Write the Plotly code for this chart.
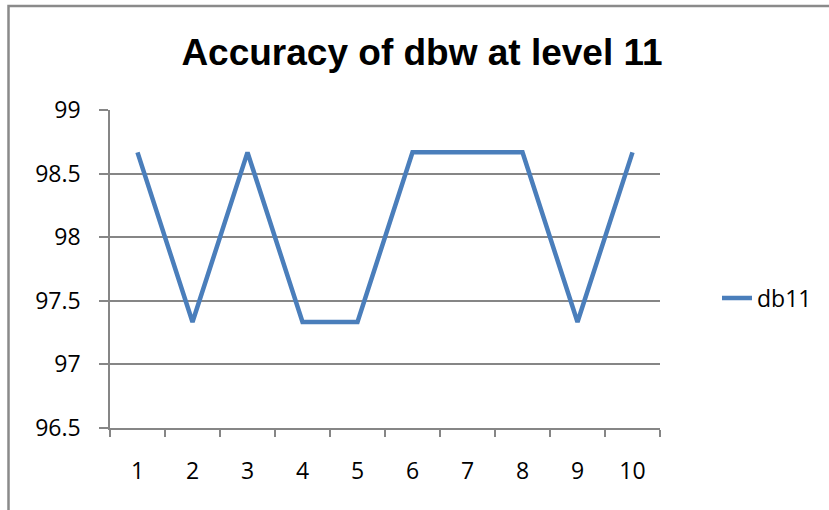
import plotly.graph_objects as go

categories = ["1", "2", "3", "4", "5", "6", "7", "8", "9", "10"]
db11 = [98.667, 97.333, 98.667, 97.333, 97.333, 98.667, 98.667, 98.667, 97.333, 98.667]
y_ticks = [96.5, 97, 97.5, 98, 98.5, 99]
y_tick_labels = ["96.5", "97", "97.5", "98", "98.5", "99"]

GRID = "#868686"
TICKFONT = dict(family="Open Sans, Noto Sans, sans-serif", size=23, color="#000000")

fig = go.Figure()
fig.add_trace(go.Scatter(
    x=categories, y=db11, mode="lines", name="db11",
    line=dict(color="#4A7EBB", width=4.5),
))

fig.update_layout(
    width=829, height=510, autosize=False,
    margin=dict(l=110, r=169, t=110, b=82),
    paper_bgcolor="white", plot_bgcolor="white",
    title=dict(
        text="<b>Accuracy of dbw at level 11</b>",
        font=dict(family="Liberation Sans Narrow, Arial Narrow, Liberation Sans, sans-serif", size=37, color="#000000"),
        x=422 / 829, xref="container", xanchor="center",
        y=1 - 52 / 510, yref="container", yanchor="middle",
    ),
    showlegend=True,
    legend=dict(
        x=(717 - 110) / 550, xanchor="left", y=(428 - 298) / 318, yanchor="middle",
        font=TICKFONT, bgcolor="rgba(0,0,0,0)", borderwidth=0,
    ),
    xaxis=dict(
        type="category", range=[-0.5, 9.5], tickson="boundaries", ticks="outside", ticklen=7,
        tickcolor=GRID, tickwidth=1.5, showline=True, linecolor=GRID, linewidth=1.5,
        showgrid=False, tickfont=TICKFONT, ticklabelstandoff=22, zeroline=False,
    ),
    yaxis=dict(
        range=[96.5, 99], tickvals=y_ticks, ticktext=y_tick_labels,
        ticks="outside", ticklen=9, tickcolor=GRID, tickwidth=1.5,
        showline=True, linecolor=GRID, linewidth=1.5,
        showgrid=True, gridcolor=GRID, gridwidth=1.5,
        tickfont=TICKFONT, ticklabelstandoff=14, zeroline=False,
    ),
    shapes=[dict(
        type="rect", xref="paper", yref="paper",
        x0=(8.5 - 110) / 550, x1=(900 - 110) / 550,
        y0=(428 - 600) / 318, y1=1 + (110 - 6) / 318,
        line=dict(color="#8A8A8A", width=2.5), fillcolor="rgba(0,0,0,0)", layer="below",
    )],
)

fig.write_html(
    "out.html",
    config={"displayModeBar": False},
    post_script="document.body.style.margin='0';document.body.style.overflow='hidden';",
)
